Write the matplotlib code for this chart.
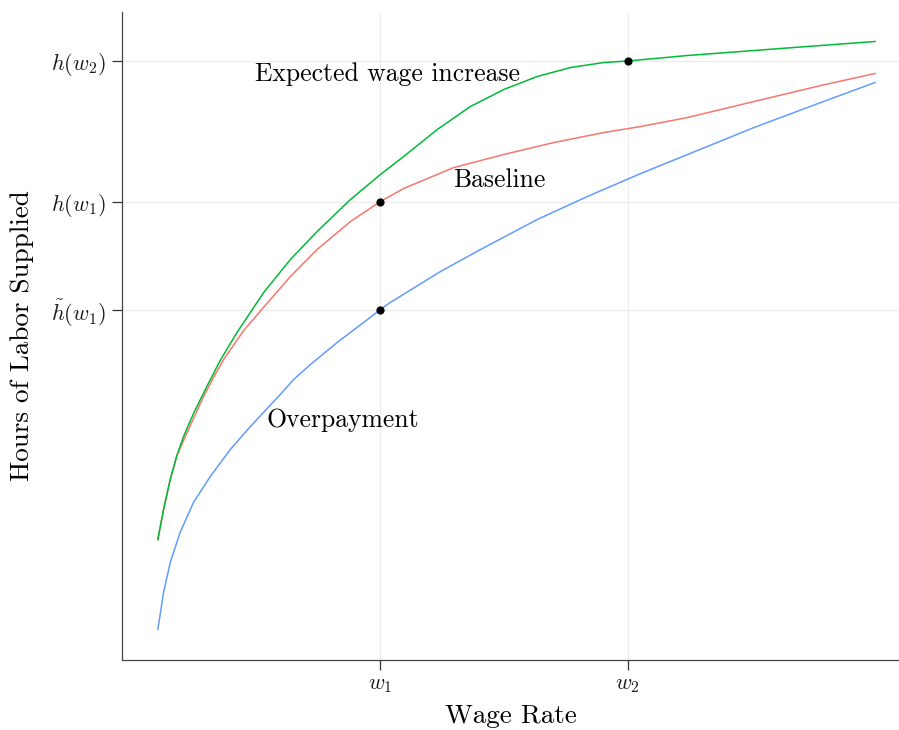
import numpy as np
import matplotlib
matplotlib.use("Agg")
from matplotlib import pyplot as plt

plt.rcParams["font.family"] = ["cmr10", "DejaVu Serif"]
plt.rcParams["mathtext.fontset"] = "cm"
plt.rcParams["axes.formatter.use_mathtext"] = True

# labor supply curves (wage, hours)
exp_w = [0.100, 0.123, 0.150, 0.177, 0.204, 0.244, 0.298, 0.352, 0.420,
         0.528, 0.636, 0.744, 0.879, 1.000, 1.094, 1.230, 1.364, 1.499,
         1.634, 1.769, 1.904, 2.000, 2.242, 2.511, 2.781, 3.000]
exp_h = [12.0, 15.0, 18.0, 20.4, 22.3, 24.6, 27.3, 29.9, 32.7, 36.7, 40.0,
         42.8, 46.0, 48.5, 50.3, 53.0, 55.3, 57.0, 58.3, 59.2, 59.7, 59.85,
         60.4, 60.9, 61.4, 61.8]

base_w = [0.100, 0.123, 0.150, 0.177, 0.231, 0.285, 0.325, 0.366, 0.447,
          0.555, 0.636, 0.744, 0.879, 1.000, 1.094, 1.297, 1.499, 1.702,
          1.904, 2.053, 2.242, 2.511, 2.781, 3.000]
base_h = [12.0, 15.0, 18.0, 20.4, 23.4, 26.3, 28.2, 30.0, 32.9, 36.0, 38.3,
          41.0, 43.8, 45.8, 47.1, 49.2, 50.5, 51.7, 52.7, 53.3, 54.2, 55.8,
          57.4, 58.6]

over_w = [0.100, 0.123, 0.150, 0.190, 0.244, 0.312, 0.393, 0.474, 0.595,
          0.649, 0.717, 0.825, 0.932, 1.000, 1.040, 1.243, 1.405, 1.634,
          1.837, 2.053, 2.242, 2.511, 2.781, 3.000]
over_h = [3.0, 6.7, 9.7, 12.7, 15.7, 18.3, 21.0, 23.3, 26.5, 28.0, 29.5,
          31.7, 33.7, 35.0, 35.7, 38.8, 41.0, 44.0, 46.3, 48.6, 50.5, 53.2,
          55.7, 57.7]

w_ticks = [1.0, 2.0]
w_labels = [r"$w_1$", r"$w_2$"]
h_ticks = [35.0, 45.8, 59.85]
h_labels = [r"$\tilde{h}(w_1)$", r"$h(w_1)$", r"$h(w_2)$"]

# highlighted points (wage, hours)
pts_x = [1.0, 1.0, 2.0]
pts_y = [45.8, 35.0, 59.85]

fig = plt.figure(figsize=(8.99, 7.30), dpi=100)
ax = fig.add_axes([122 / 899, 70 / 730, 777 / 899, 648 / 730])

ax.plot(base_w, base_h, color="#F8766D", lw=1.1)
ax.plot(exp_w, exp_h, color="#00BA38", lw=1.1)
ax.plot(over_w, over_h, color="#619CFF", lw=1.1)
ax.scatter(pts_x, pts_y, s=24, color="black", zorder=5)

fs = 18.5
ax.text(1.03, 58.5, "Expected wage increase", ha="center", va="center",
        fontsize=fs)
ax.text(1.48, 47.9, "Baseline", ha="center", va="center", fontsize=fs)
ax.text(0.846, 23.9, "Overpayment", ha="center", va="center", fontsize=fs)

ax.set_xlim(-0.045, 3.097)
ax.set_ylim(-0.05, 64.75)
ax.set_xticks(w_ticks)
ax.set_xticklabels(w_labels, fontsize=16)
ax.set_yticks(h_ticks)
ax.set_yticklabels(h_labels, fontsize=16)
ax.grid(True, color="#ebebeb", lw=0.8)
ax.set_axisbelow(True)

for s in ["top", "right"]:
    ax.spines[s].set_visible(False)
for s in ["left", "bottom"]:
    ax.spines[s].set_color("#444444")
    ax.spines[s].set_linewidth(0.9)
ax.tick_params(length=7.5, width=0.9, color="#333333", labelcolor="#1a1a1a",
               pad=4)

ax.set_xlabel("Wage Rate", fontsize=19.5, labelpad=6)
ax.set_ylabel("Hours of Labor Supplied", fontsize=19.5, labelpad=12)

fig.savefig("out.png", dpi=100)
